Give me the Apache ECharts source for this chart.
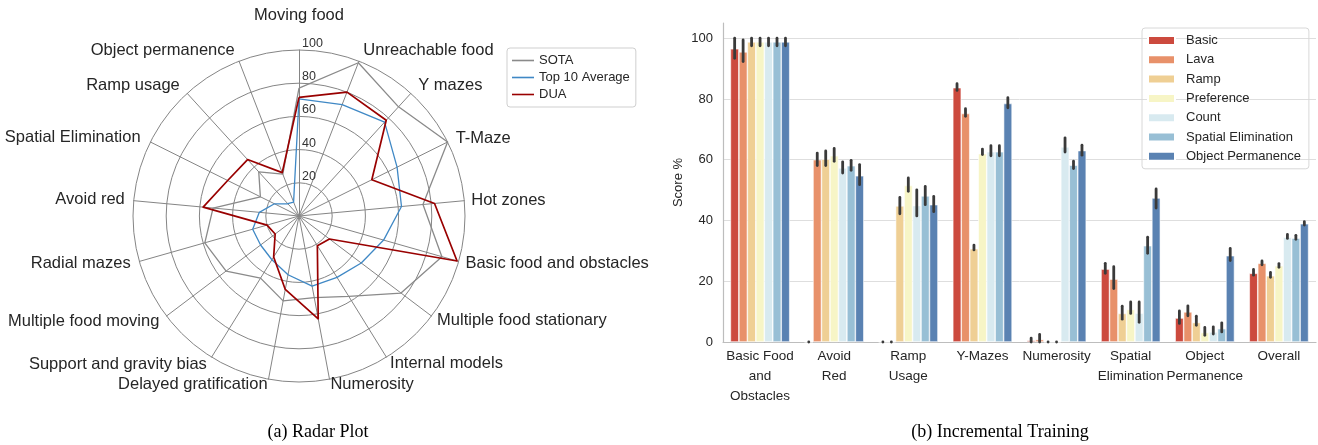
<!DOCTYPE html>
<html><head><meta charset="utf-8">
<script src="https://cdn.jsdelivr.net/npm/echarts@6/dist/echarts.min.js"></script>
<style>html,body{margin:0;padding:0;background:#fff}#c{width:1318px;height:445px}</style>
</head><body><div id="c"></div>
<script>
// ---------- Radar data (clockwise order from the top) ----------
const radarAxes = ['Moving food','Unreachable food','Y mazes','T-Maze','Hot zones','Basic food and obstacles','Multiple food stationary','Internal models','Numerosity','Delayed gratification','Support and gravity bias','Multiple food moving','Radial mazes','Avoid red','Spatial Elimination','Ramp usage','Object permanence'];
const sotaScores  = [77, 99, 89, 100, 75, 89.5, 77, 57, 50, 52, 44, 55, 59, 52, 26, 36, 27];
const top10Scores = [70.5, 72, 76.5, 66, 62, 53, 47, 43.5, 43, 36, 31, 29, 29, 24, 16.5, 10, 9];
const duaScores   = [71.5, 80, 78, 49, 82, 99, 23, 21, 63, 45, 29, 18, 20, 58, 48, 46, 28];
const radarSeriesNames = ['SOTA', 'Top 10 Average', 'DUA'];

// ---------- Bar data ----------
const barCategories = ['Basic Food\nand\nObstacles','Avoid\nRed','Ramp\nUsage','Y-Mazes','Numerosity','Spatial\nElimination','Object\nPermanence','Overall'];
const hueNames = ['Basic','Lava','Ramp','Preference','Count','Spatial Elimination','Object Permanence'];
const basicVals = [96.5, 0, 0, 83.7, 0.5, 24.0, 7.9, 22.6];
const lavaVals  = [95.5, 60.0, 0, 75.2, 0.8, 20.7, 9.9, 25.9];
const rampVals  = [98.8, 60.2, 44.8, 30.7, 0, 9.4, 6.4, 21.8];
const prefVals  = [98.8, 61.3, 51.5, 62.0, 0, 10.7, 3.1, 25.1];
const countVals = [98.8, 57.3, 44.9, 62.6, 64.2, 9.5, 3.3, 34.5];
const spatVals  = [98.8, 58.0, 48.1, 62.6, 58.2, 31.7, 4.4, 34.2];
const objVals   = [98.8, 54.7, 45.2, 78.5, 63.0, 47.4, 28.4, 38.9];
// error bar extents (low / high)
const basicLow  = [93.4, 0, 0, 82.8, 0, 22.6, 6.1, 22.0];
const basicHigh = [100, 0, 0, 85.0, 1.3, 25.9, 10.2, 23.9];
const lavaLow   = [92.3, 58.1, 0, 74.3, 0, 17.6, 8.6, 25.4];
const lavaHigh  = [99.4, 62.2, 0, 76.8, 2.5, 24.8, 11.9, 26.7];
const rampLow   = [97.5, 58.1, 42.2, 30.3, 0, 7.5, 5.5, 21.3];
const rampHigh  = [100, 62.9, 47.6, 31.9, 0, 11.8, 8.5, 22.9];
const prefLow   = [97.5, 59.5, 49.6, 61.7, 0, 9.4, 2.2, 24.6];
const prefHigh  = [100, 63.7, 54.0, 63.5, 0, 13.2, 4.8, 25.8];
const countLow  = [97.5, 55.6, 41.5, 61.3, 62.5, 6.5, 2.6, 34.1];
const countHigh = [100, 59.3, 50.1, 64.6, 67.2, 13.2, 5.0, 35.4];
const spatLow   = [97.5, 56.5, 45.2, 61.3, 57.1, 29.2, 3.3, 33.8];
const spatHigh  = [100, 59.8, 51.2, 64.6, 59.5, 34.5, 6.3, 35.1];
const objLow    = [97.5, 51.8, 42.9, 77.1, 61.5, 44.1, 26.8, 38.5];
const objHigh   = [100, 58.4, 47.9, 80.4, 64.8, 50.4, 30.8, 39.6];
const yTicks = [0, 20, 40, 60, 80, 100];

// ---------- styling ----------
const hueColors = ['#cc4a3e','#e8916a','#efcf94','#f7f5c6','#d8eaf0','#98bfd5','#5a82b2'];
const radarColors = ['#8a8a8a', '#3f88c5', '#990000'];
const radarLineWidths = [1.3, 1.3, 1.7];
const nameGaps = [26, 12, 11, 9, 7, 7, 7, 7, 5, 5, 9, 9, 9, 9, 11, 11, 12];

const cw = arr => [arr[0]].concat(arr.slice(1).reverse()); // ECharts lays indicators counter-clockwise

const indicators = cw(radarAxes.map((n, i) => {
  const o = { name: n, min: 0, max: 100, nameGap: nameGaps[i] };
  if (i === 0) {
    o.axisLabel = { show: true, color: '#333', fontSize: 12.5, fontFamily: 'Liberation Sans, Arial',
      align: 'left', verticalAlign: 'bottom', margin: -3,
      formatter: v => (v === 0 ? '' : String(v)) };
  }
  return o;
}));

const radarValues = [sotaScores, top10Scores, duaScores];
const hueVals = [basicVals, lavaVals, rampVals, prefVals, countVals, spatVals, objVals];
const hueLow = [basicLow, lavaLow, rampLow, prefLow, countLow, spatLow, objLow];
const hueHigh = [basicHigh, lavaHigh, rampHigh, prefHigh, countHigh, spatHigh, objHigh];

const font = 'Liberation Sans, Arial, sans-serif';
const series = [];

series.push({
  type: 'radar',
  radarIndex: 0,
  symbol: 'none',
  silent: true,
  data: radarSeriesNames.map((n, i) => ({
    name: n,
    value: cw(radarValues[i]),
    lineStyle: { color: radarColors[i], width: radarLineWidths[i] },
    itemStyle: { color: radarColors[i] }
  }))
});

hueNames.forEach((n, k) => {
  series.push({
    type: 'bar', name: n, xAxisIndex: 0, yAxisIndex: 0,
    data: hueVals[k],
    barGap: '0%', barCategoryGap: '20%',
    itemStyle: { color: hueColors[k], borderColor: '#ffffff', borderWidth: 0.6 },
    silent: true
  });
});
hueNames.forEach((n, k) => {
  series.push({
    type: 'custom', name: n + ' err', xAxisIndex: 0, yAxisIndex: 0,
    silent: true, z: 5,
    data: barCategories.map((c, j) => [j, hueLow[k][j], hueHigh[k][j]]),
    encode: { x: 0, y: [1, 2] },
    renderItem: (params, api) => {
      const cat = api.value(0);
      const c0 = api.coord([cat, 0]);
      const band = api.size([1, 0])[0];
      const w = band * 0.8 / hueNames.length;
      const x = c0[0] + (k - (hueNames.length - 1) / 2) * w;
      const y1 = api.coord([cat, api.value(1)])[1];
      const y2 = api.coord([cat, api.value(2)])[1];
      return { type: 'line', shape: { x1: x, y1: y1, x2: x, y2: y2 + (y1 === y2 ? 0.01 : 0) },
        style: { stroke: '#3a3a3a', lineWidth: 2.8, lineCap: 'round' } };
    }
  });
});

const option = {
  animation: false,
  backgroundColor: '#ffffff',
  textStyle: { fontFamily: font },
  title: [
    { text: '(a) Radar Plot', left: 313, top: 418, textAlign: 'center',
      textStyle: { fontFamily: 'Liberation Serif, Times New Roman, serif', fontSize: 18, fontWeight: 'normal', color: '#000' } },
    { text: '(b) Incremental Training', left: 995, top: 418, textAlign: 'center',
      textStyle: { fontFamily: 'Liberation Serif, Times New Roman, serif', fontSize: 18, fontWeight: 'normal', color: '#000' } }
  ],
  legend: [
    { data: radarSeriesNames, orient: 'vertical', left: 507, top: 48,
      icon: 'rect', itemWidth: 22, itemHeight: 1.6, itemGap: 4,
      textStyle: { fontSize: 13, color: '#262626', fontFamily: font },
      borderColor: '#cfcfcf', borderWidth: 1, borderRadius: 3, padding: [6, 6, 6, 5],
      selectedMode: false },
    { data: hueNames, orient: 'vertical', left: 1142, top: 28,
      icon: 'rect', itemWidth: 27, itemHeight: 9, itemGap: 6.3,
      textStyle: { fontSize: 13, color: '#262626', fontFamily: font, padding: [0, 0, 0, 6] },
      borderColor: '#d8d8d8', borderWidth: 1, borderRadius: 3, padding: [6, 8, 6, 5],
      selectedMode: false }
  ],
  radar: {
    center: [299, 216],
    radius: 166,
    startAngle: 90,
    shape: 'circle',
    splitNumber: 5,
    indicator: indicators,
    axisName: { color: '#262626', fontSize: 16.5, fontFamily: font },
    axisLine: { lineStyle: { color: '#858585', width: 1 } },
    splitLine: { lineStyle: { color: '#858585', width: 1 } },
    splitArea: { show: false },
    axisTick: { show: false },
    axisLabel: { show: false }
  },
  grid: { left: 723, right: 2, top: 23, bottom: 103, containLabel: false },
  xAxis: {
    type: 'category', data: barCategories,
    axisLine: { lineStyle: { color: '#bdbdbd', width: 1.2 } },
    axisTick: { show: false },
    axisLabel: { interval: 0, color: '#262626', fontSize: 13.5, lineHeight: 20, margin: 4, fontFamily: font },
    splitLine: { show: false }
  },
  yAxis: {
    type: 'value', min: 0, max: 105, interval: 20,
    name: 'Score %', nameLocation: 'middle', nameGap: 38, nameRotate: 90,
    nameTextStyle: { color: '#262626', fontSize: 13, fontFamily: font },
    axisLine: { show: true, lineStyle: { color: '#bdbdbd', width: 1.2 } },
    axisTick: { show: false },
    axisLabel: { color: '#262626', fontSize: 13, margin: 10, showMaxLabel: false, fontFamily: font,
      formatter: v => (yTicks.indexOf(v) >= 0 ? String(v) : '') },
    splitLine: { show: true, lineStyle: { color: ['#dedede','#dedede','#dedede','#dedede','#dedede','#dedede','rgba(0,0,0,0)'], width: 1 } }
  },
  series: series
};

const chart = echarts.init(document.getElementById('c'), null, { renderer: 'canvas' });
chart.setOption(option);
</script></body></html>
